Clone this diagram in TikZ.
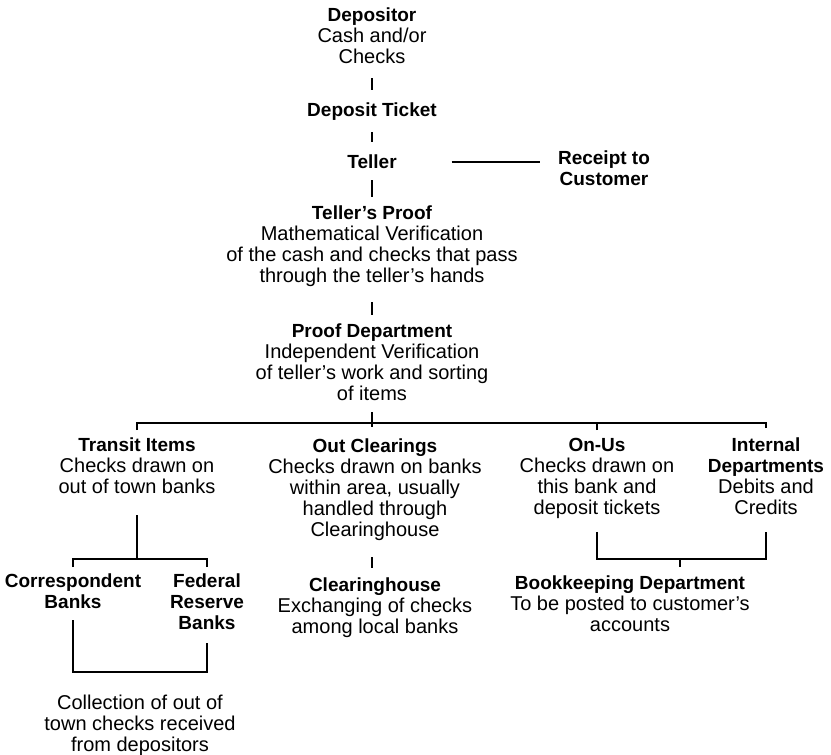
\documentclass[tikz,border=0pt]{standalone}
\usepackage{fontspec}
\setmainfont{Liberation Sans}
\newcommand\hd[1]{{\fontsize{19}{21}\selectfont\bfseries #1}}
\begin{document}
\begin{tikzpicture}[x=1pt,y=-1pt,
  txt/.style={align=center,inner sep=0pt,anchor=north,font=\fontsize{20}{21}\selectfont},
  ln/.style={line width=1.6pt},
  lnk/.style={line width=2.2pt}]
\useasboundingbox (0,0) rectangle (831,755);
% nodes (positioned by their top edge)
\node[txt] (dep) at (372,8) {\hd{Depositor}\\Cash and/or\\Checks};
\node[txt] (ticket) at (372,103) {\hd{Deposit Ticket}};
\node[txt] (teller) at (372,155) {\hd{Teller}};
\node[txt] (receipt) at (604,151) {\hd{Receipt to}\\\hd{Customer}};
\node[txt] (tproof) at (372,206) {\hd{Teller's Proof}\\Mathematical Verification\\of the cash and checks that pass\\through the teller's hands};
\node[txt] (pdept) at (372,324) {\hd{Proof Department}\\Independent Verification\\of teller's work and sorting\\of items};
\node[txt] (transit) at (137,438) {\hd{Transit Items}\\Checks drawn on\\out of town banks};
\node[txt] (outcl) at (375,439) {\hd{Out Clearings}\\Checks drawn on banks\\within area, usually\\handled through\\Clearinghouse};
\node[txt] (onus) at (597,438) {\hd{On-Us}\\Checks drawn on\\this bank and\\deposit tickets};
\node[txt] (internal) at (766,438) {\hd{Internal}\\\hd{Departments}\\Debits and\\Credits};
\node[txt] (corr) at (73,574) {\hd{Correspondent}\\\hd{Banks}};
\node[txt] (fed) at (207,574) {\hd{Federal}\\\hd{Reserve}\\\hd{Banks}};
\node[txt] (clear) at (375,578) {\hd{Clearinghouse}\\Exchanging of checks\\among local banks};
\node[txt] (book) at (630,576) {\hd{Bookkeeping Department}\\To be posted to customer's\\accounts};
\node[txt] (coll) at (140,695) {Collection of out of\\town checks received\\from depositors};
% junctions
\coordinate (bus) at (372,423);
\coordinate (tsplit) at (137,559);
\coordinate (cfj) at (140,672);
\coordinate (bkj) at (680,559);
% main column
\draw[ln,shorten <=14,shorten >=13] (dep.south) -- (ticket.north);
\draw[ln,shorten <=11,shorten >=13] (ticket.south) -- (teller.north);
\draw[lnk,shorten <=11,shorten >=9] (teller.south) -- (tproof.north);
\draw[ln,shorten <=54.7,shorten >=18] (teller.east) -- (teller.east -| receipt.west);
\draw[ln,shorten <=14.8,shorten >=9] (tproof.south) -- (pdept.north);
% distribution bus
\draw[ln,shorten <=11,shorten >=12] (pdept.south) -- (pdept.south |- outcl.north);
\draw[ln,shorten <=8] (transit.north) |- (bus);
\draw[ln,shorten <=10] (internal.north) |- (bus);
\draw[ln,shorten <=8] (onus.north) -- (onus.north |- bus);
% transit items split
\draw[ln,shorten <=21] (transit.south) -- (tsplit);
\draw[ln,shorten <=7] (corr.north) |- (tsplit);
\draw[ln,shorten <=7] (fed.north) |- (tsplit);
% correspondent / federal bracket
\draw[ln,shorten <=11] (corr.south) |- (cfj);
\draw[ln,shorten <=13] (fed.south) |- (cfj);
% out clearings to clearinghouse
\draw[ln,shorten <=16,shorten >=10] (outcl.south -| bus) -- (clear.north -| bus);
% on-us / internal to bookkeeping
\draw[ln,shorten <=13] (onus.south) |- (bkj);
\draw[ln,shorten <=17] (internal.south) |- (bkj);
\draw[ln,shorten >=9] (bkj) -- (bkj |- book.north);
\end{tikzpicture}
\end{document}
